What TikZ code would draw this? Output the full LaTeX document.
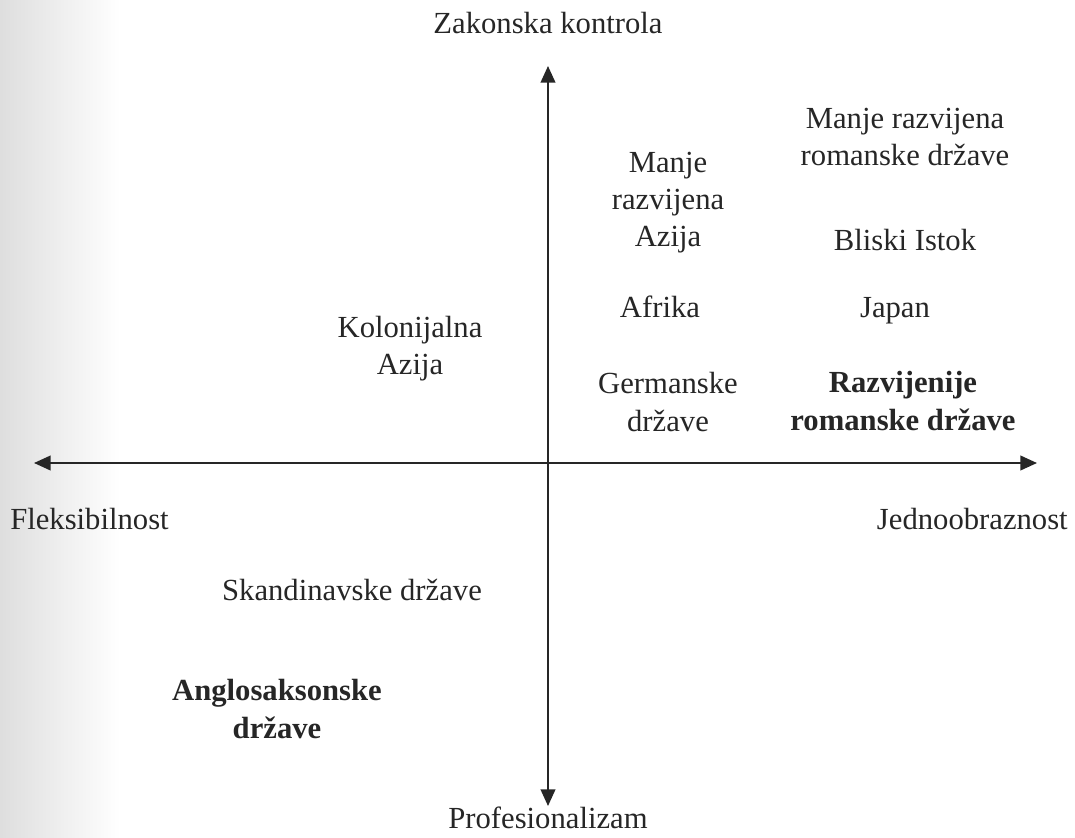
\documentclass[tikz,border=0pt]{standalone}
\usepackage{fontspec}
\setmainfont{Liberation Serif}
\usetikzlibrary{arrows.meta}
\begin{document}
\begin{tikzpicture}[x=0.75pt,y=-0.75pt,
  lbl/.style={font=\fontsize{23}{27.8}\selectfont, align=center, inner sep=0pt, text=black!85},
  blbl/.style={lbl, font=\fontsize{23}{27.8}\selectfont\bfseries},
  axis/.style={line width=1.5pt, black!85, {Triangle[length=12.5pt,width=11pt]}-{Triangle[length=12.5pt,width=11pt]}}]
\useasboundingbox (0,0) rectangle (1075,838);
\fill[left color=black!13, right color=white] (0,0) rectangle (120,838);
% axis end points
\coordinate (top) at (548,66);
\coordinate (bottom) at (548,806);
\coordinate (left) at (34,463);
\coordinate (right) at (1037,463);
\draw[axis] (bottom) -- (top);
\draw[axis] (left) -- (right);
% axis labels
\node[lbl] (zk) at (548,23) {Zakonska kontrola};
\node[lbl] (pr) at (548,818) {Profesionalizam};
\node[lbl, anchor=west] (fl) at (10,519) {Fleksibilnost};
\node[lbl, anchor=east] (jo) at (1068,519) {Jednoobraznost};
% quadrant entries
\node[lbl] (mrr) at (905,137) {Manje razvijena\\romanske države};
\node[lbl] (mra) at (668,203) {Manje\\razvijena\\Azija};
\node[lbl] (bi) at (905,240) {Bliski Istok};
\node[lbl] (af) at (660,307) {Afrika};
\node[lbl] (jp) at (895,311) {Japan};
\node[lbl] (ka) at (410,349) {Kolonijalna\\Azija};
\node[lbl] (gd) at (668,402) {Germanske\\države};
\node[blbl] (rrd) at (903,401) {Razvijenije\\romanske države};
\node[lbl] (sd) at (352,590) {Skandinavske države};
\node[blbl] (ad) at (277,709) {Anglosaksonske\\države};
\end{tikzpicture}
\end{document}
